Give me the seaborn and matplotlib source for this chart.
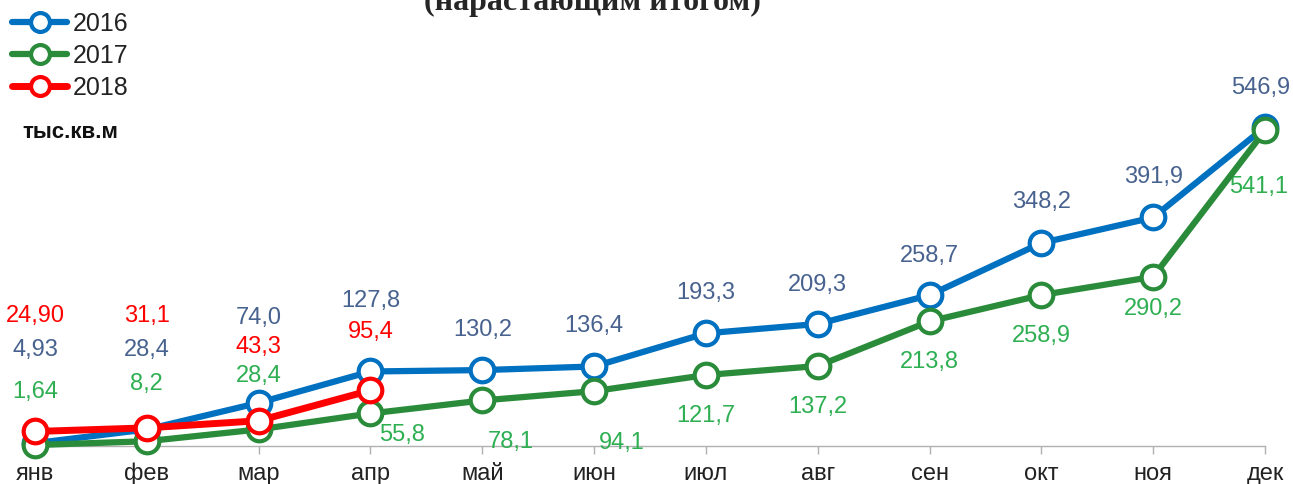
import pandas as pd
import numpy as np
import matplotlib
matplotlib.use("Agg")
import matplotlib.pyplot as plt
import seaborn as sns

sns.set_style("white")
plt.rcParams['font.family'] = ['Liberation Sans', 'DejaVu Sans']

# data (тыс.кв.м, нарастающим итогом)
months = ["янв", "фев", "мар", "апр", "май", "июн", "июл", "авг", "сен", "окт", "ноя", "дек"]
v2016 = [4.93, 28.4, 74.0, 127.8, 130.2, 136.4, 193.3, 209.3, 258.7, 348.2, 391.9, 546.9]
v2017 = [1.64, 8.2, 28.4, 55.8, 78.1, 94.1, 121.7, 137.2, 213.8, 258.9, 290.2, 541.1]
v2018 = [24.90, 31.1, 43.3, 95.4]
lbl2016 = ["4,93", "28,4", "74,0", "127,8", "130,2", "136,4", "193,3", "209,3", "258,7", "348,2", "391,9", "546,9"]
lbl2017 = ["1,64", "8,2", "28,4", "55,8", "78,1", "94,1", "121,7", "137,2", "213,8", "258,9", "290,2", "541,1"]
lbl2018 = ["24,90", "31,1", "43,3", "95,4"]

# label offsets in pixels (dx, dy)
off2016 = [(0, 93), (0, 79), (0, 85), (0, 70), (0, 40), (0, 40), (0, 40), (0, 39), (0, 39), (0, 41), (0, 40), (-4, 39)]
off2017 = [(0, 53), (0, 57), (0, 53), (32, -22), (28, -42), (28, -52), (0, -41), (0, -41), (0, -41), (0, -41), (0, -32), (-6, -57)]
off2018 = [(0, 115), (0, 112), (0, 74), (0, 58)]

series = [
    ("2016", v2016, lbl2016, off2016, "#0070C0", "#48628F"),
    ("2017", v2017, lbl2017, off2017, "#2A8C3A", "#2EAF52"),
    ("2018", v2018, lbl2018, off2018, "#FF0000", "#FF0000"),
]

W, H = 1293, 484
fig = plt.figure(figsize=(W / 100, H / 100), dpi=100)
ax = fig.add_axes([35 / W, (H - 446) / H, (1265 - 35) / W, (446 - 60) / H])

handles = []
for i, (name, vals, labels, offs, col, tcol) in enumerate(series):
    x = np.arange(len(vals))
    sns.lineplot(x=x, y=vals, ax=ax, color=col, lw=4.5 if name != "2018" else 5,
                 marker="o", ms=17, mfc="white", mec=col, mew=3,
                 clip_on=False, zorder=3 + i)
    handles.append(ax.lines[-1])
    for xi, v, t, (dx, dy) in zip(x, vals, labels, offs):
        ax.annotate(t, (xi, v), xytext=(dx, dy), textcoords="offset pixels",
                    ha="center", va="center", fontsize=17, color=tcol)

ax.set_xlim(0, 11)
ax.set_ylim(0, 662)
ax.set_xticks(range(len(months)))
ax.set_xticklabels(months, fontsize=17)
ax.set_yticks([])
ax.set_xlabel("")
ax.set_ylabel("")
for s in ["left", "top", "right"]:
    ax.spines[s].set_visible(False)
ax.spines["bottom"].set_color("#B0B0B0")
ax.spines["bottom"].set_linewidth(1)
ax.tick_params(axis="x", direction="out", length=6, width=1, color="#B0B0B0",
               pad=6, labelcolor="#222222", bottom=True)

leg = fig.legend(handles, ["2016", "2017", "2018"], loc="upper left",
                 bbox_to_anchor=(12 / W, 1 - 12 / H), frameon=False, fontsize=18,
                 handlelength=2.2, handletextpad=0.25, labelspacing=0.32,
                 markerscale=0.8, borderpad=0, borderaxespad=0)
for t in leg.get_texts():
    t.set_color("#222222")

fig.text(22 / W, 1 - 132 / H, "тыс.кв.м", fontsize=16, fontweight="bold",
         ha="left", va="center", color="#111111")

fig.text(592 / W, 1 - 10 / H, "(нарастающим итогом)", fontsize=23, fontweight="bold",
         ha="center", va="baseline", family=["Liberation Serif", "DejaVu Serif"])

fig.savefig("out.png", dpi=100)
